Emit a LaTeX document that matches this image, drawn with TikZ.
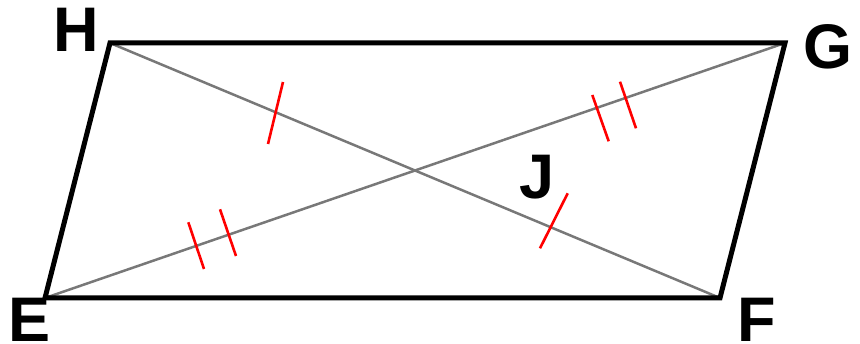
\documentclass[tikz,border=0pt]{standalone}
\usepackage{fontspec}
\setmainfont{Liberation Sans}
\begin{document}
\begin{tikzpicture}[x=1pt,y=-1pt,
  outline/.style={line width=5pt, line join=miter, black},
  diag/.style={line width=2.5pt, color={rgb,255:red,120;green,120;blue,120}},
  tick/.style={line width=2.6pt, red},
  lbl/.style={font=\fontsize{63}{63}\selectfont\bfseries, inner sep=0pt}]
\useasboundingbox (0,0) rectangle (860,344);
\coordinate (H) at (110,43);
\coordinate (G) at (785,43);
\coordinate (F) at (720,298);
\coordinate (E) at (45,298);
% diagonals
\draw[diag] (H) -- (F);
\draw[diag] (E) -- (G);
% outline
\draw[outline] (H) -- (G) -- (F) -- (E) -- cycle;
% ticks
\coordinate (t1a) at (283,82);   \coordinate (t1b) at (268,144);
\coordinate (t2a) at (567.7,193.3); \coordinate (t2b) at (540,248.3);
\coordinate (d1a) at (188.3,222.3); \coordinate (d1b) at (204,269);
\coordinate (d2a) at (220,209.3); \coordinate (d2b) at (236,256);
\coordinate (d3a) at (592.3,95); \coordinate (d3b) at (608.7,141.3);
\coordinate (d4a) at (620,81.7); \coordinate (d4b) at (636,128.3);
\draw[tick] (t1a) -- (t1b);
\draw[tick] (t2a) -- (t2b);
\draw[tick] (d1a) -- (d1b);
\draw[tick] (d2a) -- (d2b);
\draw[tick] (d3a) -- (d3b);
\draw[tick] (d4a) -- (d4b);
% labels
\node[lbl] (lH) at (76,30) {H};
\node[lbl] (lG) at (828,47) {G};
\node[lbl] (lE) at (29.5,320) {E};
\node[lbl] (lF) at (757,320) {F};
\node[lbl] (lJ) at (537,177) {J};
\end{tikzpicture}
\end{document}
